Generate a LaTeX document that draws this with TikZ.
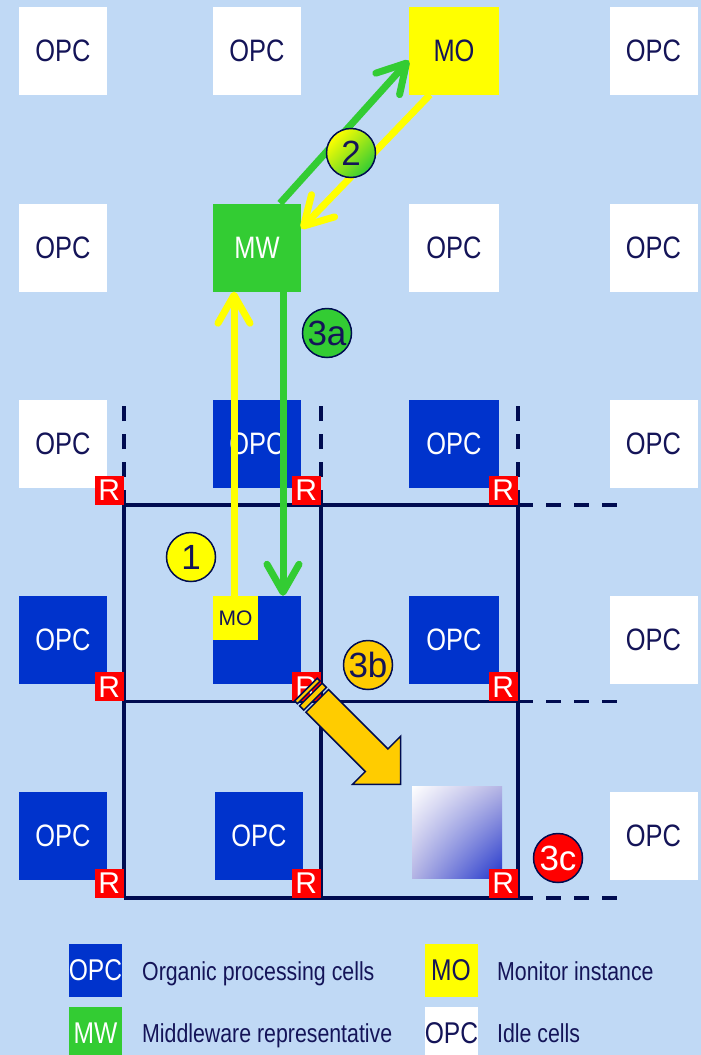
\documentclass[tikz,border=0pt]{standalone}
\usepackage{fontspec}
\setmainfont{Liberation Sans}
\newfontfamily\narrowfont{Liberation Sans}[FakeStretch=0.82]
\usetikzlibrary{arrows.meta,calc,shadings}
\definecolor{bg}{HTML}{C0D9F5}
\definecolor{cellblue}{HTML}{0033CC}
\definecolor{cellgreen}{HTML}{33CC33}
\definecolor{cellyellow}{HTML}{FFFF00}
\definecolor{navytext}{HTML}{141458}
\definecolor{gridnavy}{HTML}{000C50}
\definecolor{rred}{HTML}{FF0000}
\definecolor{gold}{HTML}{FFCC00}
\definecolor{gradmid}{HTML}{B4B4E4}
\definecolor{gradblue}{HTML}{2236CC}
\begin{document}
\begin{tikzpicture}[x=1pt,y=-1pt,
 cell/.style={minimum width=88pt,minimum height=88pt,inner sep=0pt,font=\narrowfont\fontsize{31}{31}\selectfont},
 idle/.style={cell,fill=white,text=navytext},
 opc/.style={cell,fill=cellblue,text=white},
 mwcell/.style={cell,fill=cellgreen,text=white},
 mocell/.style={cell,fill=cellyellow,text=navytext},
 rbox/.style={fill=rred,text=white,minimum size=29pt,inner sep=0pt,anchor=south east,font=\fontsize{30}{30}\selectfont},
 gridline/.style={draw=gridnavy,line width=3.5pt},
 griddash/.style={gridline,dash pattern=on 15pt off 13pt},
 flow/.style={line width=7pt,-{Straight Barb[length=28pt,width=32pt,round]}},
 badge/.style={circle,draw=gridnavy,line width=1.5pt,minimum size=49pt,inner sep=0pt,text=navytext,font=\fontsize{35}{35}\selectfont},
 legbox/.style={minimum width=53pt,minimum height=53pt,inner sep=0pt,font=\narrowfont\fontsize{30}{30}\selectfont},
 legtext/.style={anchor=base west,text=navytext,inner sep=0pt,font=\narrowfont\fontsize{26}{26}\selectfont}
]
\useasboundingbox (0,0) rectangle (701,1055);
\fill[bg] (0,0) rectangle (701,1055);

% row 1
\node[idle] (c11) at (63,50.5) {OPC};
\node[idle] (c12) at (257,50.5) {OPC};
\node[mocell,minimum width=90pt] (c13) at (454,50.5) {MO};
\node[idle] (c14) at (653.5,50.5) {OPC};
% row 2
\node[idle] (c21) at (63,247.5) {OPC};
\node[mwcell] (c22) at (257,247.5) {MW};
\node[idle,minimum width=90pt] (c23) at (454,247.5) {OPC};
\node[idle] (c24) at (653.5,247.5) {OPC};
% row 3
\node[idle] (c31) at (63,444) {OPC};
\node[opc] (c32) at (257,444) {OPC};
\node[opc,minimum width=90pt] (c33) at (454,444) {OPC};
\node[idle] (c34) at (653.5,444) {OPC};
% row 4
\node[opc] (c41) at (63,640) {OPC};
\node[opc] (c42) at (257,640) {};
\node[opc,minimum width=90pt] (c43) at (454,640) {OPC};
\node[idle] (c44) at (653.5,640) {OPC};
% row 5
\node[opc] (c51) at (63,836) {OPC};
\node[opc] (c52) at (259,836) {OPC};
\shade[upper left=white,lower right=gradblue,upper right=gradmid,lower left=gradmid] (412,786) rectangle (502,878);
\node[minimum width=90pt,minimum height=92pt,inner sep=0pt] (c53) at (457,832) {};
\node[idle] (c54) at (653.5,836) {OPC};

% grid
\foreach \gx in {124,321,518} {
  \draw[gridline] (\gx,505) -- (\gx,898);
  \draw[griddash] (\gx,505) -- (\gx,405);
}
\foreach \gy in {505,701.5,898} {
  \draw[gridline] (124,\gy) -- (518,\gy);
  \draw[griddash] (518,\gy) -- (618,\gy);
}

% routers
\foreach \gy [count=\i] in {505,701.5,898} {
  \foreach \gx [count=\j] in {124,321,518} {
    \node[rbox] (r\i\j) at (\gx,\gy) {R};
  }
}

% monitor instance in cell
\node[fill=cellyellow,text=navytext,minimum width=45pt,minimum height=44pt,inner sep=0pt,anchor=north west,font=\fontsize{21}{21}\selectfont] (mo4) at (c42.north west) {MO};

% flows
\draw[flow,cellyellow] ([xshift=-1.5pt]mo4.north) -- ([xshift=-1.5pt]mo4.north |- c22.south);
\draw[flow,cellgreen] ([xshift=26pt]c22.south) -- ([xshift=26pt]c42.north);
\draw[flow,cellgreen] ([xshift=23pt]c22.north) -- ([yshift=-10pt]c13.west);
\draw[flow,cellyellow] ([xshift=-24pt]c13.south) -- ([yshift=19pt]c22.east);

% migration arrow 3b
\begin{scope}[shift={(400.7,784.3)},rotate=-45]
  \filldraw[fill=gold,draw=gridnavy,line width=1.5pt,line join=miter]
    (0,0) -- (-34,34) -- (-34,16) -- (-118,16) -- (-118,-16) -- (-34,-16) -- (-34,-34) -- cycle;
  \filldraw[fill=gold,draw=gridnavy,line width=1.5pt] (-121,-16) rectangle (-127,16);
  \filldraw[fill=gold,draw=gridnavy,line width=1.5pt] (-130,-16) rectangle (-134,16);
\end{scope}

% badges
\node[badge,fill=cellyellow] (b1) at (191,557) {1};
\node[badge,top color=cellyellow,bottom color=cellgreen,shading angle=45] (b2) at (351,153) {2};
\node[badge,fill=cellgreen] (b3a) at (327,333) {3a};
\node[badge,fill=gold] (b3b) at (368,665) {3b};
\node[badge,fill=rred,text=white] (b3c) at (558,858) {3c};

% legend
\node[legbox,fill=cellblue,text=white] (lg1) at (95.5,970.5) {OPC};
\node[legtext] (lt1) at (142,980) {Organic processing cells};
\node[legbox,fill=cellyellow,text=navytext] (lg2) at (451,970.5) {MO};
\node[legtext] (lt2) at (497,980) {Monitor instance};
\node[legbox,fill=cellgreen,text=white] (lg3) at (95.5,1033) {MW};
\node[legtext] (lt3) at (142,1042) {Middleware representative};
\node[legbox,fill=white,text=navytext] (lg4) at (451.5,1033) {OPC};
\node[legtext] (lt4) at (497,1042) {Idle cells};
\end{tikzpicture}
\end{document}
